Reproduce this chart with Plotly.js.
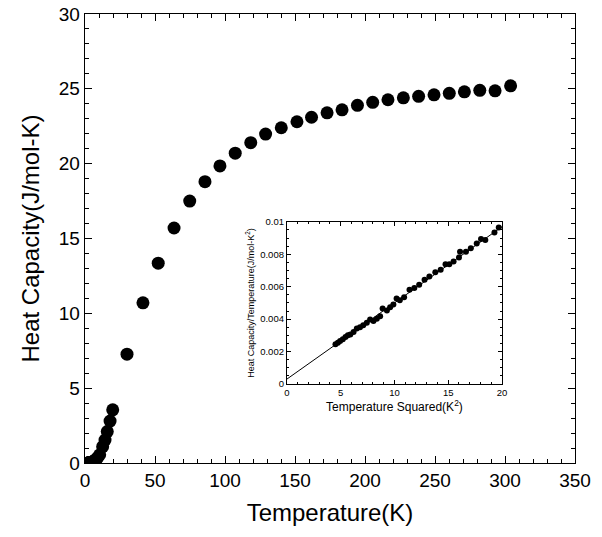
<!DOCTYPE html>
<html>
<head>
<meta charset="utf-8">
<script src="https://cdn.plot.ly/plotly-3.0.1.min.js"></script>
<style>html,body{margin:0;padding:0;background:#fff;}#chart{width:602px;height:537px;}</style>
</head>
<body>
<div id="chart"></div>
<script>
// Main plot: heat capacity vs temperature
const tempK = [2.1, 2.3, 2.5, 2.7, 2.9, 3.1, 3.3, 3.5, 3.7, 3.9, 4.1, 4.3, 4.4,
  5, 6, 7, 8, 9, 10.5, 12.6, 14.3, 15.9, 17.9, 19.8,
  30, 41.4, 52.3, 63.6, 74.8, 85.7, 96.4, 107.3, 118.4, 129, 140.2, 151.4, 161.8, 172.9,
  183.6, 194.6, 205.5, 216.4, 227.4, 238.3, 249.3, 260.2, 271, 282, 292.9, 304];
const heatCap = [0.005, 0.006, 0.008, 0.01, 0.012, 0.015, 0.018, 0.021, 0.025, 0.03, 0.035, 0.04, 0.043,
  0.07, 0.11, 0.17, 0.25, 0.36, 0.55, 1.09, 1.53, 2.1, 2.8, 3.55,
  7.27, 10.7, 13.35, 15.7, 17.5, 18.8, 19.85, 20.7, 21.4, 21.98, 22.4, 22.8, 23.1, 23.4,
  23.6, 23.9, 24.1, 24.27, 24.4, 24.5, 24.6, 24.7, 24.8, 24.9, 24.87, 25.2];

// Inset: C/T vs T^2
const tempSq = [4.52, 4.74, 4.95, 5.2, 5.45, 5.67, 5.9, 6.2, 6.5, 6.8, 7.1, 7.43, 7.74, 8.05, 8.36, 8.67,
  8.9, 9.3, 9.6, 9.9, 10.2, 10.5, 10.9, 11.4, 11.85, 12.3, 12.8, 13.25, 13.8, 14.3, 14.75, 15.1,
  15.5, 16.0, 16.1, 16.65, 17.1, 17.65, 18.05, 18.45, 19.3, 19.7];
const capOverT = [0.00245, 0.00255, 0.00265, 0.00276, 0.0029, 0.0030, 0.00306, 0.0032, 0.00343, 0.0035,
  0.00363, 0.00378, 0.00398, 0.00388, 0.00402, 0.00418, 0.00465, 0.00453, 0.00473, 0.0049, 0.00527,
  0.00516, 0.00535, 0.00582, 0.00592, 0.00612, 0.00643, 0.00663, 0.0069, 0.00704, 0.00739, 0.00739,
  0.00755, 0.0078, 0.00816, 0.00816, 0.00837, 0.00867, 0.00894, 0.00888, 0.00935, 0.00965];
const fitX = [0, 20];
const fitY = [0.0003, 0.0097];

const mainTickFont = {family: 'Liberation Sans, Arial, sans-serif', size: 19, color: '#000'};
const insetTickFont = {family: 'Liberation Sans, Arial, sans-serif', size: 9.5, color: '#000'};

const traces = [
  {x: tempK, y: heatCap, type: 'scatter', mode: 'markers',
   marker: {color: '#000', size: 13}, xaxis: 'x', yaxis: 'y', hoverinfo: 'skip'},
  {x: fitX, y: fitY, type: 'scatter', mode: 'lines',
   line: {color: '#000', width: 1}, xaxis: 'x2', yaxis: 'y2', hoverinfo: 'skip'},
  {x: tempSq, y: capOverT, type: 'scatter', mode: 'markers',
   marker: {color: '#000', size: 6}, xaxis: 'x2', yaxis: 'y2', hoverinfo: 'skip'}
];

const layout = {
  width: 602, height: 537,
  margin: {l: 85, r: 27, t: 14, b: 74},
  paper_bgcolor: '#fff', plot_bgcolor: '#fff',
  showlegend: false,
  font: {family: 'Liberation Sans, Arial, sans-serif', color: '#000'},
  xaxis: {
    domain: [0, 1], range: [0, 350], tickvals: [0, 50, 100, 150, 200, 250, 300, 350],
    ticks: 'inside', ticklen: 7, tickwidth: 1, tickcolor: '#000',
    minor: {ticks: 'inside', dtick: 10, ticklen: 4, tickcolor: '#000', showgrid: false},
    showline: true, linecolor: '#000', linewidth: 1.3, mirror: 'allticks',
    showgrid: false, zeroline: false, tickfont: mainTickFont,
    title: {text: 'Temperature(K)', font: {size: 24, color: '#000'}, standoff: 14}
  },
  yaxis: {
    domain: [0, 1], range: [0, 30], tickvals: [0, 5, 10, 15, 20, 25, 30],
    ticks: 'inside', ticklen: 7, tickwidth: 1, tickcolor: '#000',
    minor: {ticks: 'inside', dtick: 1, ticklen: 4, tickcolor: '#000', showgrid: false},
    showline: true, linecolor: '#000', linewidth: 1.3, mirror: 'allticks',
    showgrid: false, zeroline: false, tickfont: mainTickFont,
    title: {text: 'Heat Capacity(J/mol-K)', font: {size: 24, color: '#000'}, standoff: 12}
  },
  xaxis2: {
    domain: [0.412, 0.851], anchor: 'y2', range: [0, 20], tickvals: [0, 5, 10, 15, 20],
    ticks: 'inside', ticklen: 4, tickwidth: 1, tickcolor: '#000',
    minor: {ticks: 'inside', dtick: 1, ticklen: 2, tickcolor: '#000', showgrid: false},
    showline: true, linecolor: '#000', linewidth: 1, mirror: 'allticks',
    showgrid: false, zeroline: false, tickfont: insetTickFont,
    title: {text: 'Temperature Squared(K<sup>2</sup>)', font: {size: 12, color: '#000'}, standoff: 4}
  },
  yaxis2: {
    domain: [0.176, 0.537], anchor: 'x2', range: [0, 0.01],
    tickvals: [0, 0.002, 0.004, 0.006, 0.008, 0.01],
    ticktext: ['0', '0.002', '0.004', '0.006', '0.008', '0.01'],
    ticks: 'inside', ticklen: 4, tickwidth: 1, tickcolor: '#000',
    minor: {ticks: 'inside', dtick: 0.0005, ticklen: 2, tickcolor: '#000', showgrid: false},
    showline: true, linecolor: '#000', linewidth: 1, mirror: 'allticks',
    showgrid: false, zeroline: false, tickfont: insetTickFont,
    title: {text: 'Heat Capacity/Temperature(J/mol-K<sup>2</sup>)', font: {size: 9, color: '#000'}, standoff: 4}
  }
};

Plotly.newPlot('chart', traces, layout, {staticPlot: true, displayModeBar: false});
</script>
</body>
</html>
